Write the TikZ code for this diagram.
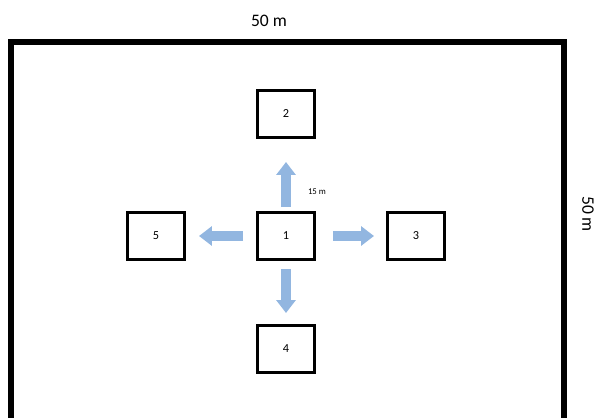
\documentclass[tikz,border=0pt]{standalone}
\usepackage{fontspec}
\setmainfont{Carlito}
\usetikzlibrary{arrows.meta}
\definecolor{flowblue}{RGB}{146,182,224}
\begin{document}
\begin{tikzpicture}[x=0.02cm,y=-0.02cm,
  plot/.style={draw,line width=0.06cm,minimum width=1.14cm,minimum height=0.94cm,inner sep=0pt,font=\scriptsize},
  flow/.style={flowblue,line width=0.2cm,-{Triangle[width=0.38cm,length=0.26cm]}}]
\useasboundingbox (0,0) rectangle (600,417);
\clip (0,0) rectangle (600,417);
\draw[line width=0.11cm](11,42) rectangle (564,450);
\node (top) at (269,21){50 m};
\node[rotate=-90] (side) at (588,214){50 m};
\node[plot](p1) at (286,236){1};
\node[plot](p2) at (286,114){2};
\node[plot](p3) at (416,236){3};
\node[plot](p4) at (286,349){4};
\node[plot](p5) at (156,236){5};
\draw[flow,shorten <=0.08cm,shorten >=0.46cm](p1.north)--(p2.south);
\draw[flow,shorten <=0.34cm,shorten >=0.24cm](p1.east)--(p3.west);
\draw[flow,shorten <=0.16cm,shorten >=0.22cm](p1.south)--(p4.north);
\draw[flow,shorten <=0.26cm,shorten >=0.26cm](p1.west)--(p5.east);
\node[font=\tiny] (dist) at (317,192){15 m};
\end{tikzpicture}
\end{document}
